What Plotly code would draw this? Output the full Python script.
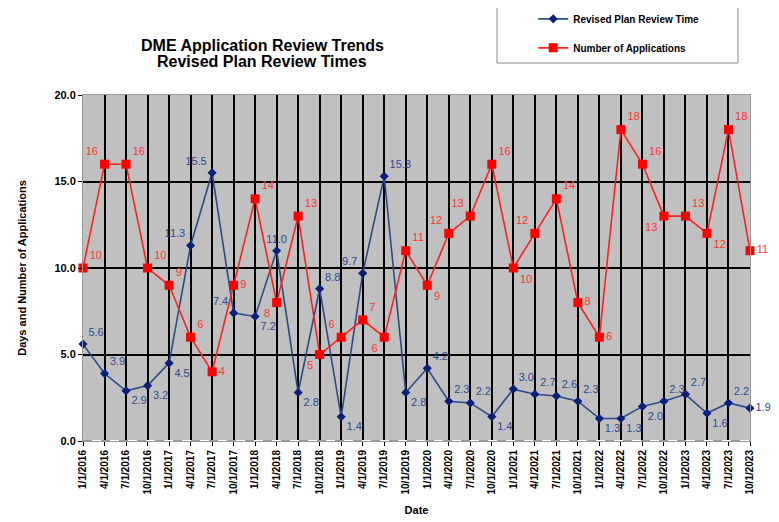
import plotly.graph_objects as go

dates = ["1/1/2016", "4/1/2016", "7/1/2016", "10/1/2016",
         "1/1/2017", "4/1/2017", "7/1/2017", "10/1/2017",
         "1/1/2018", "4/1/2018", "7/1/2018", "10/1/2018",
         "1/1/2019", "4/1/2019", "7/1/2019", "10/1/2019",
         "1/1/2020", "4/1/2020", "7/1/2020", "10/1/2020",
         "1/1/2021", "4/1/2021", "7/1/2021", "10/1/2021",
         "1/1/2022", "4/1/2022", "7/1/2022", "10/1/2022",
         "1/1/2023", "4/1/2023", "7/1/2023", "10/1/2023"]

review_time = [5.6, 3.9, 2.9, 3.2, 4.5, 11.3, 15.5, 7.4, 7.2, 11.0, 2.8, 8.8,
               1.4, 9.7, 15.3, 2.8, 4.2, 2.3, 2.2, 1.4, 3.0, 2.7, 2.6, 2.3,
               1.3, 1.3, 2.0, 2.3, 2.7, 1.6, 2.2, 1.9]

applications = [10, 16, 16, 10, 9, 6, 4, 9, 14, 8, 13, 5, 6, 7, 6, 11,
                9, 12, 13, 16, 10, 12, 14, 8, 6, 18, 16, 13, 13, 12, 18, 11]

y_ticks = [0, 5, 10, 15, 20]

TR, TL, BR, BL, MR, TC = "top right", "top left", "bottom right", "bottom left", "middle right", "top center"
blue_pos = [TR, TR, BR, BR, BR, TL, TL, TL, BR, TC, BR, TR,
            BR, TL, TR, BR, TR, TR, TR, BR, TR, TR, TR, TR,
            BR, BR, BR, TR, TR, BR, TR, MR]
red_pos = [TR, TL, TR, TR, TR, TR, MR, MR, TR, BL, TR, BL,
           TL, TR, BL, TR, BR, TL, TL, TR, BR, TL, TR, MR,
           MR, TR, TR, BL, TR, BR, TR, MR]

FONT = "Liberation Sans, Arial, sans-serif"

fig = go.Figure()
fig.add_trace(go.Scatter(
    x=dates, y=review_time, mode="lines+markers+text",
    name="Revised Plan Review Time", legendgroup="a",
    line=dict(color="#2E4A85", width=1.6),
    marker=dict(symbol="diamond", size=7, color="#0A1F78"),
    text=[f"{v:.1f}" for v in review_time], textposition=blue_pos,
    textfont=dict(family=FONT, size=11, color="#2E4A8F"),
    cliponaxis=False,
))
fig.add_trace(go.Scatter(
    x=dates, y=applications, mode="lines+markers+text",
    name="Number of Applications", legendgroup="b",
    line=dict(color="#FF2020", width=1.6),
    marker=dict(symbol="square", size=9, color="#FF0000"),
    text=[str(v) for v in applications], textposition=red_pos,
    textfont=dict(family=FONT, size=11, color="#FF3333"),
    cliponaxis=False,
))

# page body adds an 8px offset; the figure is sized to fill the rest of the window
fig.update_layout(
    width=771, height=514,
    margin=dict(l=75, r=29, t=87, b=81, autoexpand=False),
    paper_bgcolor="white", plot_bgcolor="#C0C0C0",
    font=dict(family=FONT, color="black"),
    showlegend=True,
    legend=dict(x=0.675, y=1.262, xanchor="left", yanchor="top",
                bgcolor="rgba(0,0,0,0)", tracegroupgap=10,
                font=dict(family=FONT, size=10, color="black", weight="bold")),
    annotations=[
        dict(text="<b>DME Application Review Trends</b>", x=(262-83)/667, y=(441-45)/346,
             xref="paper", yref="paper", showarrow=False,
             font=dict(family=FONT, size=16, color="black"), xanchor="center", yanchor="middle"),
        dict(text="<b>Revised Plan Review Times</b>", x=(262-83)/667, y=(441-62)/346,
             xref="paper", yref="paper", showarrow=False,
             font=dict(family=FONT, size=16, color="black"), xanchor="center", yanchor="middle"),
    ],
    shapes=[
        dict(type="rect", xref="paper", yref="paper",
             x0=(497-83)/667, x1=(738-83)/667, y0=(441-63)/346, y1=(441-5)/346,
             line=dict(color="#888888", width=1), fillcolor="rgba(0,0,0,0)"),
        dict(type="line", xref="paper", yref="y", x0=0, x1=1, y0=0, y1=0,
             line=dict(color="white", width=2), layer="above"),
        dict(type="line", xref="paper", yref="y", x0=0, x1=1, y0=0, y1=0,
             line=dict(color="#333333", width=1, dash="dash"), layer="above"),
    ],
)

fig.update_xaxes(
    type="category", range=[0, len(dates) - 1], automargin=False,
    showgrid=True, gridcolor="black", gridwidth=1.5,
    showline=True, linecolor="#999999", mirror=True,
    ticks="outside", ticklen=4, tickcolor="black",
    tickangle=-90, tickfont=dict(family=FONT, size=10, color="black", weight="bold"),
    title=dict(text="Date", font=dict(family=FONT, size=11, color="black", weight="bold"), standoff=12),
)
fig.update_yaxes(
    range=[0, 20], tickvals=y_ticks, ticktext=[f"{v:.1f}" for v in y_ticks],
    automargin=False,
    showgrid=True, gridcolor="black", gridwidth=1.5, zeroline=False,
    showline=True, linecolor="#999999", mirror=True,
    ticks="outside", ticklen=4, tickcolor="black",
    tickfont=dict(family=FONT, size=11, color="black", weight="bold"),
    title=dict(text="Days and Number of Applications",
               font=dict(family=FONT, size=11, color="black", weight="bold"), standoff=25),
)

fig.write_html("out.html")
